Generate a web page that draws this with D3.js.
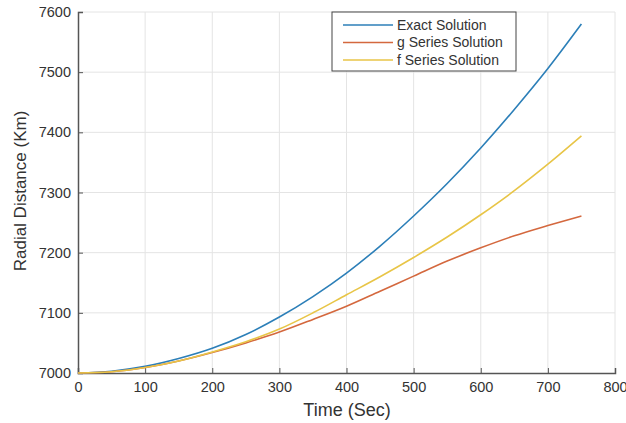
<!DOCTYPE html>
<html>
<head>
<meta charset="utf-8">
<script src="https://cdn.jsdelivr.net/npm/d3@7"></script>
<style>
  body { margin: 0; background: #fff; }
  text { font-family: "Liberation Sans", Arial, sans-serif; fill: #333; }
</style>
</head>
<body>
<svg id="chart"></svg>
<script>
// data
var times = [0, 50, 100, 150, 200, 250, 300, 350, 400, 450, 500, 550, 600, 650, 700, 750];
var exactVals = [7000, 7003, 7011, 7024, 7041, 7064, 7093, 7127, 7166, 7211, 7261, 7315, 7374, 7438, 7506, 7580];
var gVals = [7000, 7002, 7009, 7020, 7034, 7050, 7068, 7089, 7111, 7136, 7161, 7186, 7208, 7228, 7245, 7261];
var fVals = [7000, 7002, 7009, 7020, 7035, 7052, 7073, 7100, 7130, 7160, 7192, 7226, 7263, 7303, 7347, 7394];
var seriesNames = ['Exact Solution', 'g Series Solution', 'f Series Solution'];
var xTicks = [0, 100, 200, 300, 400, 500, 600, 700, 800];
var yTicks = [7000, 7100, 7200, 7300, 7400, 7500, 7600];

var colors = ['#2c7fb8', '#d4683e', '#e8c547'];

var svgWidth = 626, svgHeight = 423;
var plotLeft = 78, plotRight = 615, plotTop = 12, plotBottom = 373;

var svg = d3.select('#chart')
  .attr('width', svgWidth)
  .attr('height', svgHeight);

var x = d3.scaleLinear().domain([0, 800]).range([plotLeft, plotRight]);
var y = d3.scaleLinear().domain([7000, 7600]).range([plotBottom, plotTop]);

// grid
svg.append('g').selectAll('line')
  .data(xTicks.slice(1))
  .enter().append('line')
  .attr('x1', function(d) { return x(d); })
  .attr('x2', function(d) { return x(d); })
  .attr('y1', plotTop).attr('y2', plotBottom)
  .attr('stroke', '#e4e4e4').attr('stroke-width', 1);

svg.append('g').selectAll('line')
  .data(yTicks.slice(1))
  .enter().append('line')
  .attr('y1', function(d) { return y(d); })
  .attr('y2', function(d) { return y(d); })
  .attr('x1', plotLeft).attr('x2', plotRight)
  .attr('stroke', '#e4e4e4').attr('stroke-width', 1);

// axes
var xAxis = svg.append('g')
  .attr('transform', 'translate(0,' + plotBottom + ')')
  .call(d3.axisBottom(x).tickValues(xTicks).tickSize(-5).tickPadding(9));
var yAxis = svg.append('g')
  .attr('transform', 'translate(' + plotLeft + ',0)')
  .call(d3.axisLeft(y).tickValues(yTicks).tickSize(-5).tickPadding(7).tickFormat(d3.format('d')));

[xAxis, yAxis].forEach(function(a) {
  a.select('.domain').attr('stroke', '#555').attr('stroke-width', 1.5);
  a.selectAll('.tick line').attr('stroke', '#555');
  a.selectAll('.tick text')
    .style('font-family', '"Liberation Sans", Arial, sans-serif')
    .style('font-size', '14.5px')
    .attr('fill', '#333');
});

// lines
var allSeries = [exactVals, gVals, fVals];
var line = d3.line()
  .x(function(d, i) { return x(times[i]); })
  .y(function(d) { return y(d); })
  .curve(d3.curveMonotoneX);

svg.append('g').selectAll('path')
  .data(allSeries)
  .enter().append('path')
  .attr('d', line)
  .attr('fill', 'none')
  .attr('stroke', function(d, i) { return colors[i]; })
  .attr('stroke-width', 1.6);

// axis labels
svg.append('text')
  .attr('x', 347)
  .attr('y', 416)
  .attr('text-anchor', 'middle')
  .style('font-size', '18px')
  .text('Time (Sec)');

svg.append('text')
  .attr('transform', 'translate(26,191) rotate(-90)')
  .attr('text-anchor', 'middle')
  .style('font-size', '17px')
  .text('Radial Distance (Km)');

// legend
var legend = svg.append('g').attr('transform', 'translate(332,12)');
legend.append('rect')
  .attr('width', 184).attr('height', 59)
  .attr('fill', '#fff').attr('stroke', '#444').attr('stroke-width', 1);

var items = legend.selectAll('g.item')
  .data(seriesNames)
  .enter().append('g')
  .attr('class', 'item')
  .attr('transform', function(d, i) { return 'translate(0,' + (13 + i * 17.5) + ')'; });

items.append('line')
  .attr('x1', 11).attr('x2', 61)
  .attr('stroke', function(d, i) { return colors[i]; })
  .attr('stroke-width', 1.6);

items.append('text')
  .attr('x', 65)
  .attr('dy', '0.35em')
  .style('font-size', '14px')
  .text(function(d) { return d; });
</script>
</body>
</html>
